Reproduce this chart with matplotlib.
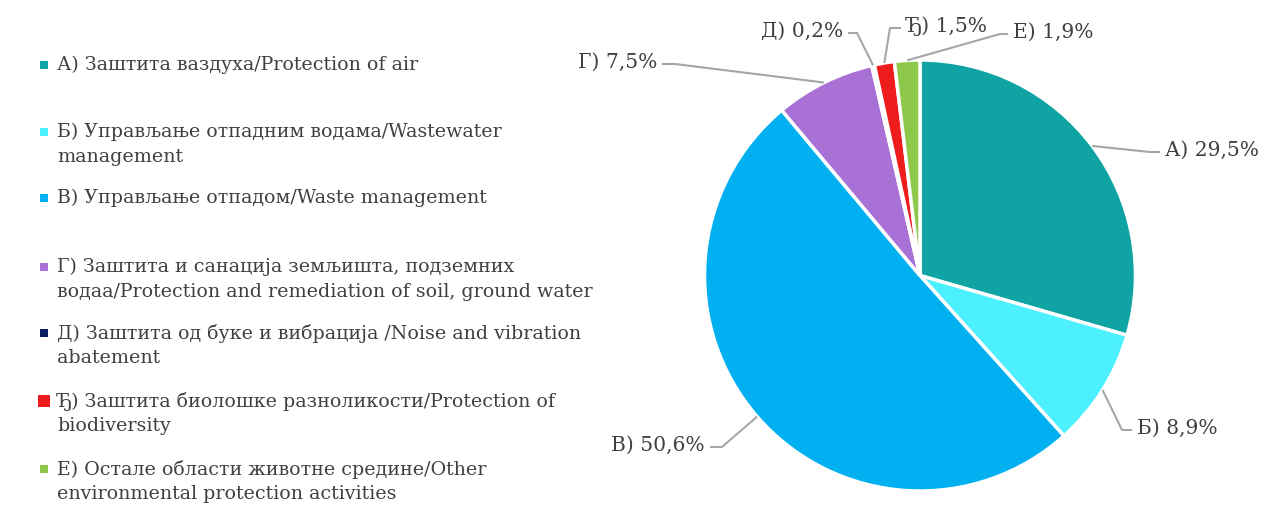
import matplotlib
matplotlib.use("Agg")
import matplotlib.pyplot as plt
import numpy as np
from matplotlib.patches import Rectangle

letters = ["А)", "Б)", "В)", "Г)", "Д)", "Ђ)", "Е)"]
legend_labels = [
    "А) Заштита ваздуха/Protection of air",
    "Б) Управљање отпадним водама/Wastewater\nmanagement",
    "В) Управљање отпадом/Waste management",
    "Г) Заштита и санација земљишта, подземних\nводаа/Protection and remediation of soil, ground water",
    "Д) Заштита од буке и вибрација /Noise and vibration\nabatement",
    "Ђ) Заштита биолошке разноликости/Protection of\nbiodiversity",
    "Е) Остале области животне средине/Other\nenvironmental protection activities",
]
values = [29.5, 8.9, 50.6, 7.5, 0.2, 1.5, 1.9]
value_labels = ["29,5%", "8,9%", "50,6%", "7,5%", "0,2%", "1,5%", "1,9%"]
colors = ["#0FA3A3", "#4DF0FF", "#00B0F0", "#A970D6", "#0B1F5E", "#EE1C1C", "#8DC84B"]

W, H = 1264, 506
fig = plt.figure(figsize=(W / 100, H / 100), dpi=100)
FONT = "DejaVu Serif"
TXT = "#404040"
FS_LEG = 13.7
FS_LAB = 14.6

# pie axes spanning pie bounding box
cx, cy, r = 920, 276.5, 215.5
ax = fig.add_axes([(cx - r) / W, (H - cy - r) / H, 2 * r / W, 2 * r / H])
wedges, _ = ax.pie(values, colors=colors, startangle=90, counterclock=False,
                   radius=1, wedgeprops=dict(edgecolor="white", linewidth=2.5))
ax.set_xlim(-1, 1)
ax.set_ylim(-1, 1)
ax.axis("off")

def px2data(x, y):
    return ((x - cx) / r, (cy - y) / r)

# leader line layout in pixel coords: elbow point, end point, side
label_pos = [
    dict(elbow=(1150, 153), end=(1160, 153), ha="left"),
    dict(elbow=(1122, 431), end=(1132, 431), ha="left"),
    dict(elbow=(722, 448), end=(710, 448), ha="right"),
    dict(elbow=(675, 65), end=(662, 65), ha="right"),
    dict(elbow=(857, 34), end=(848, 34), ha="right"),
    dict(elbow=(890, 29), end=(901, 29), ha="left"),
    dict(elbow=(1000, 35), end=(1008, 35), ha="left"),
]
for w, letter, vl, lp in zip(wedges, letters, value_labels, label_pos):
    ang = np.deg2rad((w.theta1 + w.theta2) / 2)
    px, py = np.cos(ang), np.sin(ang)
    ex, ey = px2data(*lp["elbow"])
    nx, ny = px2data(*lp["end"])
    ax.plot([px, ex, nx], [py, ey, ny], color="#A6A6A6", lw=1.5,
            clip_on=False, solid_capstyle="butt")
    dx = 5 if lp["ha"] == "left" else -5
    tx, ty = px2data(lp["end"][0] + dx, lp["end"][1] + 3)
    ax.text(tx, ty, f"{letter} {vl}", ha=lp["ha"], va="baseline",
            fontsize=FS_LAB, family=FONT, color=TXT)

# legend
legend_y = [66, 133, 199, 268, 334, 402, 470]
marker_sizes = [8, 8, 8, 8, 8, 12, 8]
for lab, col, y, ms in zip(legend_labels, colors, legend_y, marker_sizes):
    fig.patches.append(Rectangle(((44 - ms / 2) / W, (H - y - ms / 2) / H), ms / W, ms / H,
                                 transform=fig.transFigure, facecolor=col, edgecolor="none"))
    fig.text(57 / W, (H - y + 10) / H, lab, ha="left", va="top", fontsize=FS_LEG,
             family=FONT, color=TXT, linespacing=1.45)

fig.savefig("out.png", dpi=100, facecolor="white")
